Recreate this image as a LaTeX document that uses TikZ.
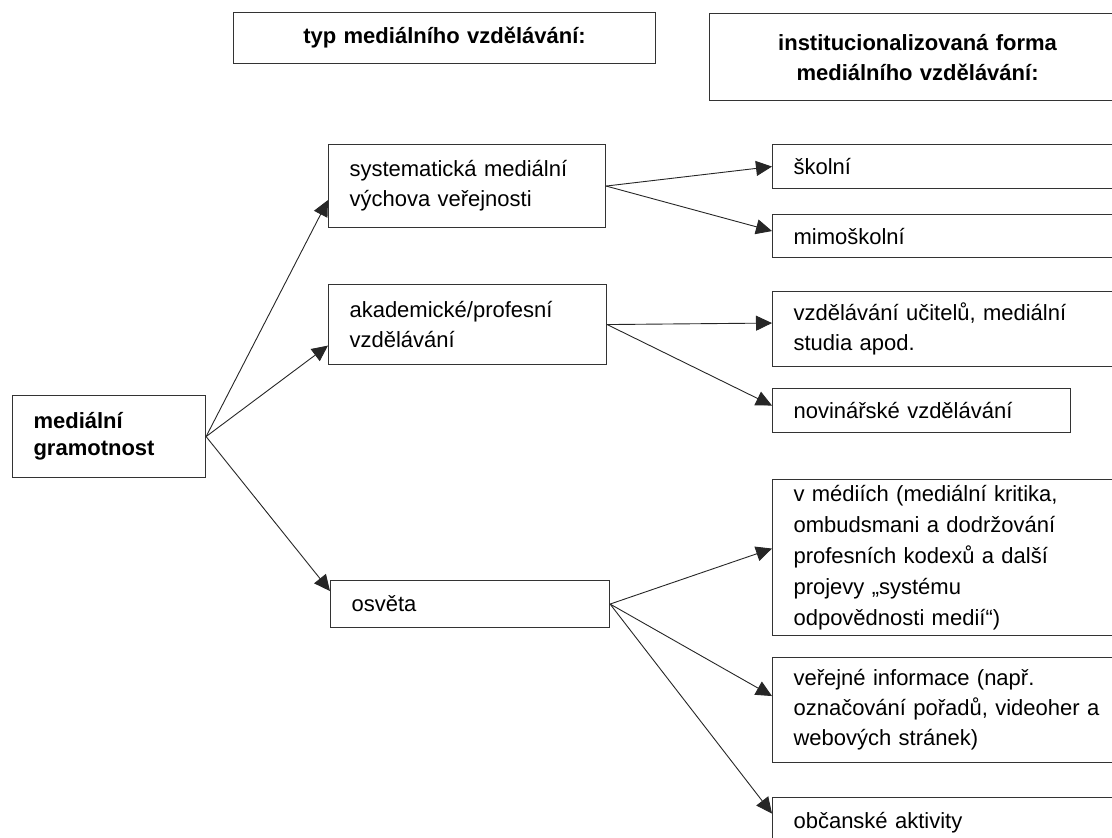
\documentclass[tikz,border=0pt]{standalone}
\usepackage{fontspec}
\setmainfont{Liberation Sans}
\usetikzlibrary{arrows.meta}

\begin{document}
\begin{tikzpicture}[x=1pt, y=-1pt,
		box/.style={draw=black!80, line width=1.1pt, anchor=north west, align=left, inner xsep=21pt, inner ysep=0pt, font=\fontsize{22}{30}\selectfont},
		head/.style={box, align=center, font=\bfseries\fontsize{22}{30}\selectfont},
		arr/.style={-{Triangle[length=16pt,width=15pt]}, line width=0.9pt, color=black!85}]
			\path[use as bounding box, clip] (0,0) rectangle (1112,838);
			\node[head, text width=380pt, minimum height=51pt] (typ) at (233,12) {typ mediálního vzdělávání:};
			\node[head, text width=374pt, minimum height=87pt] (forma) at (709,13) {institucionalizovaná forma\\ mediálního vzdělávání:};
			\node[box, font=\bfseries\fontsize{22}{27}\selectfont, text width=151pt, minimum height=82pt] (gram) at (12,395) {mediální\\ gramotnost};
			\node[box, text width=235pt, minimum height=83pt] (sys) at (328,144) {systematická mediální\\ výchova veřejnosti};
			\node[box, text width=236pt, minimum height=80pt] (akad) at (328,284) {akademické/profesní\\ vzdělávání};
			\node[box, text width=237pt, minimum height=47pt] (osveta) at (330,580) {osvěta};
			\node[box, text width=311pt, minimum height=44pt] (skol) at (772,144) {školní};
			\node[box, text width=311pt, minimum height=43pt] (mimo) at (772,214) {mimoškolní};
			\node[box, text width=311pt, minimum height=75pt] (ucit) at (772,291) {vzdělávání učitelů, mediální\\ studia apod.};
			\node[box, text width=256pt, minimum height=44pt] (novin) at (772,388) {novinářské vzdělávání};
			\node[box, font=\fontsize{22}{31}\selectfont, text width=311pt, minimum height=156pt] (media) at (772,479) {v médiích (mediální kritika,\\ ombudsmani a dodržování\\ profesních kodexů a další\\ projevy „systému\\ odpovědnosti medií“)};
			\node[box, text width=311pt, minimum height=105pt] (info) at (772,657) {veřejné informace (např.\\ označování pořadů, videoher a\\ webových stránek)};
			\node[box, text width=311pt, minimum height=50pt] (obc) at (772,797) {občanské aktivity};
			\path[arr]
			(gram.east) edge ([yshift=-14pt]sys.west)
					edge ([yshift=-21pt]akad.west)
					edge ([yshift=13pt]osveta.west)
			(sys.east) edge (skol.west)
					edge ([yshift=5pt]mimo.west)
			(akad.east) edge ([yshift=6pt]ucit.west)
					edge ([yshift=5pt]novin.west)
			(osveta.east) edge ([yshift=9pt]media.west)
					edge ([yshift=14pt]info.west)
					edge ([yshift=9pt]obc.west);
		\end{tikzpicture}
\end{document}
